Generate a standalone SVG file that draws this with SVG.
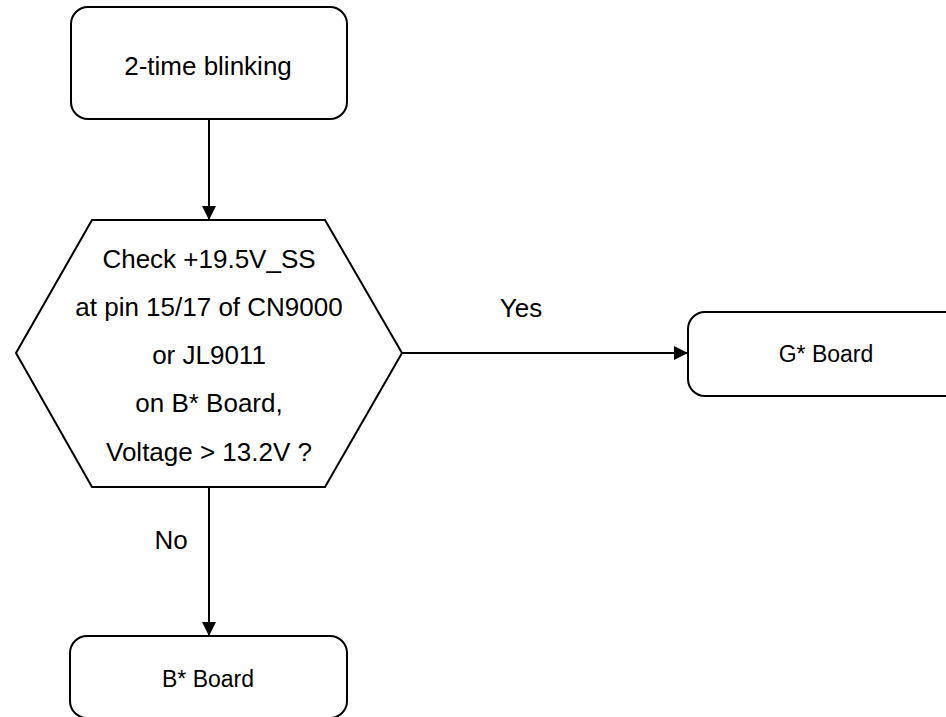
<svg xmlns="http://www.w3.org/2000/svg" width="946" height="717" viewBox="0 0 946 717">
<style>
.box{fill:#fff;stroke:#000;stroke-width:2}
.t{font-family:"Liberation Sans",Arial,sans-serif;font-size:26px;fill:#000;text-anchor:middle}
.s{font-size:23px}
.c{fill:none;stroke:#000;stroke-width:2}
</style>
<defs>
<marker id="arr" markerUnits="userSpaceOnUse" markerWidth="14" markerHeight="14" refX="14" refY="7" orient="auto" viewBox="0 0 14 14">
<path d="M0,0 L14,7 L0,14 Z" fill="#000"/>
</marker>
</defs>
<rect width="946" height="717" fill="#fff"/>
<g id="connectors">
<line class="c" x1="209" y1="119" x2="209" y2="220" marker-end="url(#arr)"/>
<line class="c" x1="402" y1="353" x2="688" y2="353" marker-end="url(#arr)"/>
<line class="c" x1="209" y1="487" x2="209" y2="636" marker-end="url(#arr)"/>
<text class="t" x="521" y="317">Yes</text>
<text class="t" x="171" y="549">No</text>
</g>
<g id="start">
<rect class="box" x="71" y="7" width="276" height="112" rx="17"/>
<text class="t" x="208" y="75">2-time blinking</text>
</g>
<g id="decision">
<polygon class="box" points="92,220 325,220 402,353 325,487 92,487 16,353"/>
<text class="t" x="209" y="268">Check +19.5V_SS</text>
<text class="t" x="209" y="316">at pin 15/17 of CN9000</text>
<text class="t" x="209" y="364">or JL9011</text>
<text class="t" x="209" y="412">on B* Board,</text>
<text class="t" x="209" y="461">Voltage &gt; 13.2V ?</text>
</g>
<g id="gboard">
<rect class="box" x="688" y="312" width="276" height="84" rx="17"/>
<text class="t s" x="826" y="362">G* Board</text>
</g>
<g id="bboard">
<rect class="box" x="70" y="636" width="277" height="82" rx="17"/>
<text class="t s" x="208" y="687">B* Board</text>
</g>
</svg>
